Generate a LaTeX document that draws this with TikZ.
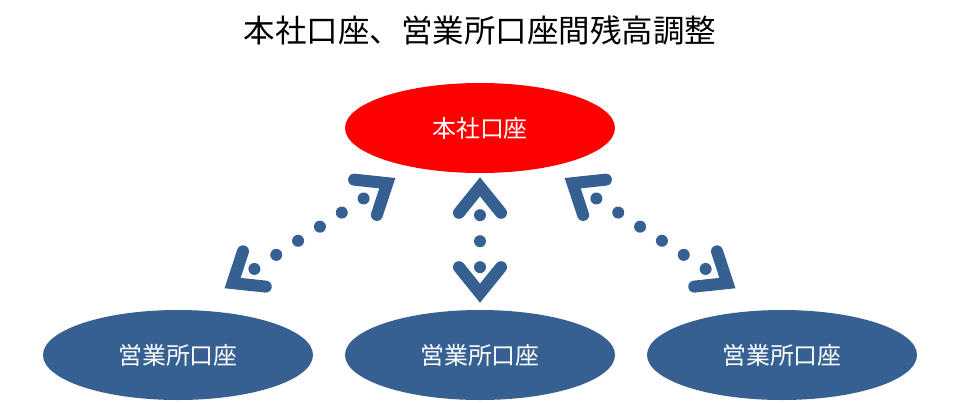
\documentclass[tikz,border=0pt]{standalone}
\usepackage{fontspec}
\setmainfont{Noto Sans CJK JP}
\usetikzlibrary{positioning,arrows.meta,shapes.geometric}
\definecolor{acct}{HTML}{366092}

\begin{document}
\begin{tikzpicture}[
  font=\fontsize{17pt}{20pt}\selectfont,
  acc/.style={ellipse, draw=none, inner sep=0pt, minimum width=6.75cm,
              minimum height=2.25cm, text=white},
  link/.style={draw=acct, line width=0.3cm, line cap=round,
               dash pattern=on 0pt off 0.65cm, dash phase=0.15cm,
               {Straight Barb[length=0.65cm, width=1.05cm, line cap=round, line join=miter]}-{Straight Barb[length=0.65cm, width=1.05cm, line cap=round, line join=miter]}},
]
  \useasboundingbox (0,0) rectangle (24,-10.05);
  \node[font=\fontsize{22.4pt}{26pt}\selectfont] (title) at (12,-0.75)
        {本社口座、営業所口座間残高調整};

  \node[acc, fill=red] (hq) at (12,-3.2) {本社口座};
  \node[acc, fill=acct] (br1) at (4.45,-8.875) {営業所口座};
  \node[acc, fill=acct] (br2) at (12,-8.875) {営業所口座};
  \node[acc, fill=acct] (br3) at (19.55,-8.875) {営業所口座};

  \draw[link, shorten <=1cm, shorten >=0.5cm] (br1.74) -- (hq.210);
  \draw[link, shorten <=0.175cm, shorten >=0.1cm] (br2.north) -- (hq.south);
  \draw[link, shorten <=1cm, shorten >=0.5cm] (br3.106) -- (hq.330);
\end{tikzpicture}
\end{document}
